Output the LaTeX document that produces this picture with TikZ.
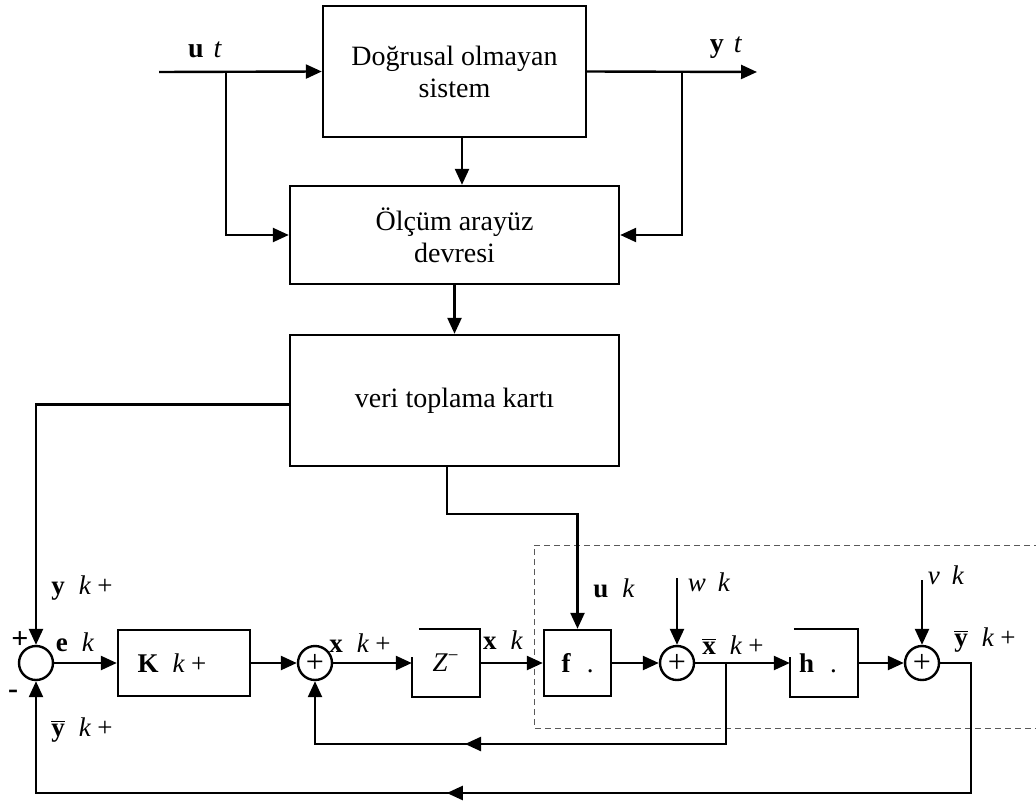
\documentclass[tikz,border=0pt]{standalone}
\usepackage{fontspec}
\setmainfont{Liberation Serif}
\usetikzlibrary{arrows.meta,decorations.markings}

\newcommand{\oly}{$\overline{\hbox{\textbf{y}}}$}
\newcommand{\olx}{$\overline{\hbox{\textbf{x}}}$}

\begin{document}
\begin{tikzpicture}[x=0.5pt, y=-0.5pt, line width=1.2pt,
  >={Triangle[length=8pt,width=7pt]},
  block/.style={draw, inner sep=0pt, align=center, font=\fontsize{14}{16}\selectfont},
  smallblock/.style={inner sep=0pt, minimum width=33pt, minimum height=33pt, font=\fontsize{13.5}{15}\selectfont},
  sum/.style={draw, circle, minimum size=17pt, inner sep=0pt, font=\fontsize{16}{16}\selectfont},
  sig/.style={inner sep=0pt, font=\fontsize{13.5}{15}\selectfont},
  topsig/.style={inner sep=0pt, font=\fontsize{14}{16}\selectfont},
  midarrow/.style={postaction={decorate}, decoration={markings, mark=at position #1 with {\arrow{>}}}}]

\useasboundingbox (0,0) rectangle (1036,802);

% Plant and measurement chain
\node[block, minimum width=131.5pt, minimum height=65.5pt] (sys) at (454.5,71.5) {Doğrusal olmayan\\sistem};
\node[block, minimum width=164.5pt, minimum height=49pt] (olcum) at (454.5,235) {Ölçüm arayüz\\devresi};
\node[block, minimum width=164.5pt, minimum height=65.5pt] (kart) at (454.5,400.5) {veri toplama kartı};

% Input and output of the plant
\coordinate (uin) at (159,72);
\coordinate (ub) at (226,72);
\coordinate (yb) at (682,72);
\coordinate (yout) at (757,72);
\draw[->] (uin) -- (sys.west);
\draw[->] (ub) |- (olcum.west);
\draw[->] (sys.east) -- (yout);
\draw[->] (yb) |- (olcum.east);
\draw[->] ([xshift=3.75pt]sys.south) -- ([xshift=3.75pt]olcum.north);
\draw[->] (olcum.south) -- (kart.north);
\node[topsig] (lut) at (205,50) {\textbf{u}\hspace{5pt}\textit{t}};
\node[topsig] (lyt) at (726,48) {\textbf{y}\hspace{5pt}\textit{t}};

% Observer region
\draw[dashed, line width=0.5pt, gray!70!black, dash pattern=on 3pt off 2pt]
  (1040,545) -- (534,545) -- (534,728) -- (1040,728);

% Bottom row
\node[sum] (s1) at (36,663) {};
\node[draw, smallblock, minimum width=66pt] (K) at (184,663) {\textbf{K}\hspace{7pt}\textit{k}\hspace{3pt}+\kern12pt};
\node[sum] (s2) at (315,663) {+};
\node[smallblock] (Z) at (446,663) {\textit{Z}\textsuperscript{−}};
\node[draw, smallblock, minimum width=33.5pt] (f) at (577.5,663) {\textbf{f}\hspace{8pt}.};
\node[sum] (s3) at (677,663) {+};
\node[smallblock] (h) at (824,663) {\textbf{h}\hspace{8pt}.\kern6pt};
\node[sum] (s4) at (922,663) {+};

% Open corners of the delay and output blocks
\draw ([xshift=3.5pt]Z.north west) -- (Z.north east) -- (Z.south east) -- (Z.south west) -- ([yshift=3pt]Z.west);
\draw ([xshift=2pt]h.north west) -- (h.north east) -- (h.south east) -- (h.south west) -- ([yshift=3pt]h.west);

% Forward path
\draw[->] ([yshift=-2pt]kart.west) -| (s1.north);
\draw[->] ([xshift=-3.75pt]kart.south) -- ++(0,47) -| (f.north);
\draw[->] (s1.east) -- (K.west);
\draw[->] (K.east) -- (s2.west);
\draw[->] (s2.east) -- (Z.west);
\draw[->] (Z.east) -- (f.west);
\draw[->] (f.east) -- (s3.west);
\draw[->] (s3.east) -- (h.west);
\draw[->] (h.east) -- (s4.west);
\coordinate (win) at (677,578);
\coordinate (vin) at (922,580);
\draw[->] (win) -- (s3.north);
\draw[->] (vin) -- (s4.north);

% Feedback paths
\coordinate (xb) at (726,663);
\coordinate (xr) at (315,744);
\draw[->, midarrow=171pt] (xb) |- (xr) -- (s2.south);
\coordinate (yc) at (971,663);
\coordinate (fbl) at (36,793);
\draw[->, midarrow=342.5pt] (s4.east) -- (yc) |- (fbl) -- (s1.south);

% Signal labels
\node[sig] (lyk) at (82,588) {\textbf{y}\hspace{7pt}\textit{k}\hspace{3pt}+};
\node[sig, font=\fontsize{15}{15}\selectfont] (lplus) at (20,640) {\textbf{+}};
\node[sig, font=\fontsize{15}{15}\selectfont] (lminus) at (13,694) {\textbf{-}};
\node[sig] (lek) at (75,642) {\textbf{e}\hspace{7pt}\textit{k}};
\node[sig] (lybk) at (82,730) {\oly\hspace{7pt}\textit{k}\hspace{3pt}+};
\node[sig] (lxk1) at (360,643) {\textbf{x}\hspace{7pt}\textit{k}\hspace{3pt}+};
\node[sig] (lxk) at (503,640) {\textbf{x}\hspace{7pt}\textit{k}};
\node[sig] (luk) at (614,588) {\textbf{u}\hspace{7pt}\textit{k}};
\node[sig] (lwk) at (709,582) {\textit{w}\hspace{6pt}\textit{k}};
\node[sig] (lxbk) at (733,645) {\olx\hspace{7pt}\textit{k}\hspace{3pt}+};
\node[sig] (lvk) at (946,575) {\textit{v}\hspace{6pt}\textit{k}};
\node[sig] (lybk2) at (985,640) {\oly\hspace{7pt}\textit{k}\hspace{3pt}+};

\end{tikzpicture}
\end{document}
